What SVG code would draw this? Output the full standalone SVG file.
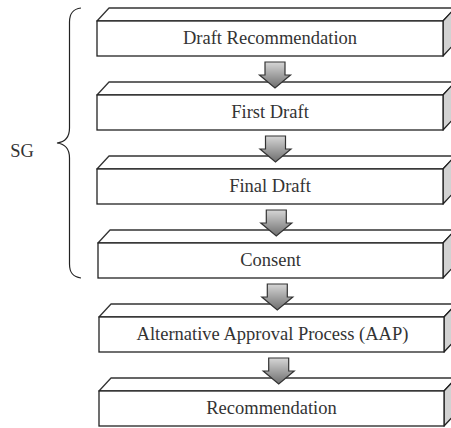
<svg xmlns="http://www.w3.org/2000/svg" width="451" height="428" viewBox="0 0 451 428">
  <style>
    .front { fill: #ffffff; stroke: #222; stroke-width: 1.3; }
    .top { fill: #ffffff; stroke: #333; stroke-width: 1.3; stroke-linejoin: round; }
    .side { fill: #d2d2d2; stroke: #222; stroke-width: 1.3; stroke-linejoin: round; }
    .label { font-family: "Liberation Serif", "Times New Roman", serif; font-size: 18.5px; fill: #333; text-anchor: middle; }
    .arrow { fill: url(#arrowFill); stroke: #333; stroke-width: 1.2; stroke-linejoin: miter; }
    .brace { fill: none; stroke: #222; stroke-width: 1.2; }
  </style>
  <defs>
    <linearGradient id="arrowFill" x1="0" y1="0" x2="0" y2="1">
      <stop offset="0" stop-color="#d6d6d6"/>
      <stop offset="1" stop-color="#6e6e6e"/>
    </linearGradient>
    <!-- down arrow, origin at top-centre of the shaft -->
    <path id="downArrow" d="M -10 0 H 10 V 13 H 15.5 L 0 26 L -15.5 13 H -10 Z"/>
  </defs>

  <rect width="451" height="428" fill="#ffffff"/>

  <!-- SG bracket -->
  <g id="sg-bracket">
    <path class="brace" d="M 81 8 C 73 9 69.5 13 69.5 22 V 128 C 69.5 137 65 142 57 143 C 65 144 69.5 149 69.5 158 V 264 C 69.5 273 73 277 81 278"/>
    <text class="label" x="22" y="157">SG</text>
  </g>

  <!-- process steps -->
  <g id="step-draft-recommendation">
    <path class="top" d="M 97 21 L 109 8 H 455 L 443 21 Z"/>
    <path class="side" d="M 443 21 L 455 8 V 43 L 443 56 Z"/>
    <rect class="front" x="97" y="21" width="346" height="35"/>
    <text class="label" x="270" y="44">Draft Recommendation</text>
  </g>
  <g id="step-first-draft">
    <path class="top" d="M 97 95 L 109 82 H 455 L 443 95 Z"/>
    <path class="side" d="M 443 95 L 455 82 V 117 L 443 130 Z"/>
    <rect class="front" x="97" y="95" width="346" height="35"/>
    <text class="label" x="270" y="118">First Draft</text>
  </g>
  <g id="step-final-draft">
    <path class="top" d="M 97 169 L 109 156 H 455 L 443 169 Z"/>
    <path class="side" d="M 443 169 L 455 156 V 191 L 443 204 Z"/>
    <rect class="front" x="97" y="169" width="346" height="35"/>
    <text class="label" x="270" y="192">Final Draft</text>
  </g>
  <g id="step-consent">
    <path class="top" d="M 98 243 L 110 230 H 455 L 443 243 Z"/>
    <path class="side" d="M 443 243 L 455 230 V 265 L 443 278 Z"/>
    <rect class="front" x="98" y="243" width="345" height="35"/>
    <text class="label" x="270.5" y="266">Consent</text>
  </g>
  <g id="step-aap">
    <path class="top" d="M 99 317 L 111 304 H 456 L 444 317 Z"/>
    <path class="side" d="M 444 317 L 456 304 V 339 L 444 352 Z"/>
    <rect class="front" x="99" y="317" width="345" height="35"/>
    <text class="label" x="272.5" y="340">Alternative Approval Process (AAP)</text>
  </g>
  <g id="step-recommendation">
    <path class="top" d="M 99 391 L 111 378 H 456 L 444 391 Z"/>
    <path class="side" d="M 444 391 L 456 378 V 413 L 444 426 Z"/>
    <rect class="front" x="99" y="391" width="345" height="35"/>
    <text class="label" x="271.5" y="414">Recommendation</text>
  </g>

  <!-- connectors -->
  <g id="connectors">
    <use href="#downArrow" class="arrow" x="275" y="62"/>
    <use href="#downArrow" class="arrow" x="275.5" y="136"/>
    <use href="#downArrow" class="arrow" x="276.3" y="210"/>
    <use href="#downArrow" class="arrow" x="277.3" y="284"/>
    <use href="#downArrow" class="arrow" x="278.7" y="358"/>
  </g>
</svg>
